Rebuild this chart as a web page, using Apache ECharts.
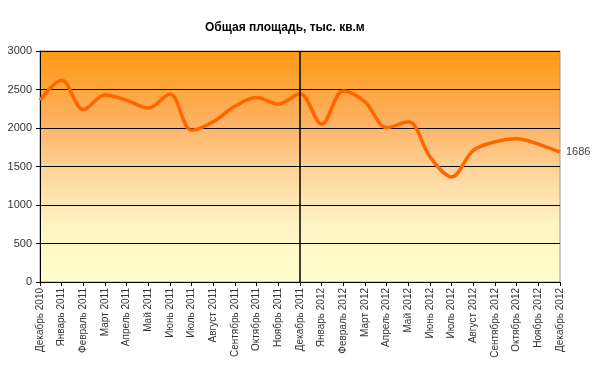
<!DOCTYPE html>
<html><head><meta charset="utf-8">
<script src="https://cdn.jsdelivr.net/npm/echarts@6/dist/echarts.min.js"></script>
<style>html,body{margin:0;padding:0;background:#fff}#c{width:600px;height:368px}</style>
</head><body><div id="c"></div>
<script>
var categories = ['Декабрь 2010','Январь 2011','Февраль 2011','Март 2011','Апрель 2011','Май 2011','Июнь 2011','Июль 2011','Август 2011','Сентябрь 2011','Октябрь 2011','Ноябрь 2011','Декабрь 2011','Январь 2012','Февраль 2012','Март 2012','Апрель 2012','Май 2012','Июнь 2012','Июль 2012','Август 2012','Сентябрь 2012','Октябрь 2012','Ноябрь 2012','Декабрь 2012'];
var area = [2360,2620,2240,2430,2360,2260,2440,1970,2080,2285,2395,2310,2445,2050,2480,2340,2005,2080,1625,1365,1710,1820,1860,1790,1686];
var yTicks = {min:0, max:3000, interval:500};
var titleText = 'Общая площадь, тыс. кв.м';
var divider = 'Декабрь 2011';

var chart = echarts.init(document.getElementById('c'));
chart.setOption({
  animation:false,
  title:{text:titleText,left:200,top:17,textStyle:{fontFamily:'Liberation Sans, Arial',fontSize:12,fontWeight:'bold',color:'#000'}},
  grid:{left:40,right:40,top:51,bottom:86,show:true,borderColor:'#999',borderWidth:1,
    backgroundColor:new echarts.graphic.LinearGradient(0,0,0,1,[
      {offset:0,color:'#FF9A12'},{offset:0.3,color:'#FDB060'},{offset:0.55,color:'#FED9A0'},
      {offset:0.75,color:'#FFF3C4'},{offset:1,color:'#FFFFCC'}])},
  xAxis:{type:'category',data:categories,boundaryGap:false,
    axisLine:{lineStyle:{color:'#000',width:1}},
    axisTick:{show:true,length:4,lineStyle:{color:'#000'}},
    axisLabel:{rotate:90,interval:0,fontFamily:'Liberation Sans, Arial',fontSize:10,color:'#333',margin:6},
    splitLine:{show:false}},
  yAxis:{type:'value',min:yTicks.min,max:yTicks.max,interval:yTicks.interval,
    axisLine:{show:true,lineStyle:{color:'#000',width:1}},
    axisTick:{show:true,length:4,lineStyle:{color:'#000'}},
    axisLabel:{formatter:function(v){return String(v);},fontFamily:'Liberation Sans, Arial',fontSize:11,color:'#333',margin:8},
    splitLine:{lineStyle:{color:'#000',width:1}}},
  series:[{type:'line',data:area,smooth:0.35,symbol:'none',
    lineStyle:{color:'#FF6600',width:3.5},
    endLabel:{show:true,formatter:'{c}',color:'#444',fontFamily:'Liberation Sans, Arial',fontSize:11,distance:6},
    markLine:{silent:true,symbol:'none',label:{show:false},lineStyle:{color:'#000',width:1.5,type:'solid'},
      data:[{xAxis:divider}]}
  }]
});
</script></body></html>
